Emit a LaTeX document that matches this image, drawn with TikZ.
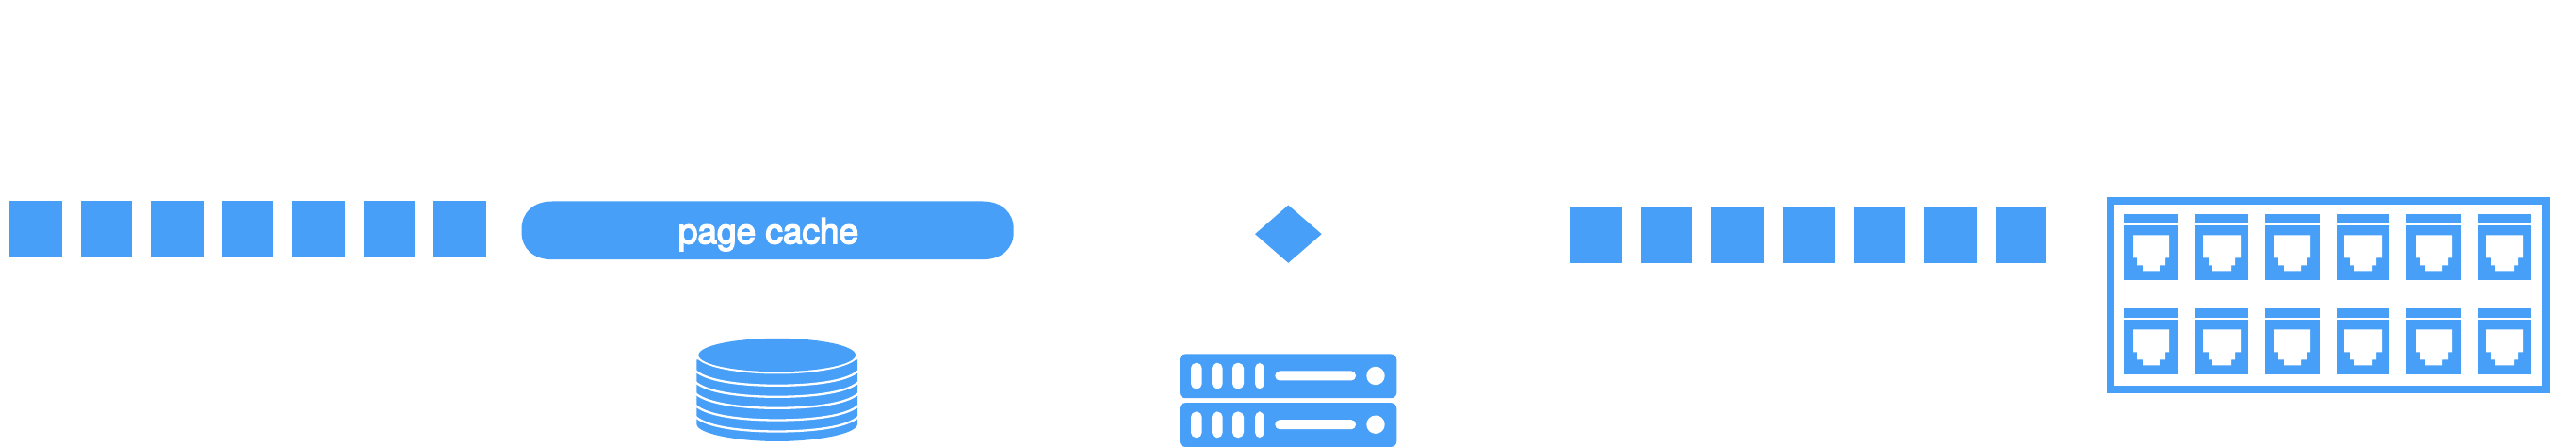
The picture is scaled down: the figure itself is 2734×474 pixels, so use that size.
\documentclass[tikz,border=0pt]{standalone}
\usepackage{fontspec}
\setmainfont{TeX Gyre Heros}
\newfontfamily\pcfont[FakeBold=4]{TeX Gyre Heros}
\definecolor{bl}{RGB}{71,159,248}
\newcommand{\portA}[2]{%
  \fill[bl] (#1,#2) rectangle ++(58,10);
  \fill[bl] (#1,#2+12) rectangle ++(58,58);
  \fill[white] (#1+10,#2+22) -- ++(38,0) -- ++(0,24) -- ++(-4,0) -- ++(0,8) -- ++(-6,0) -- ++(0,6) -- ++(-18,0) -- ++(0,-6) -- ++(-6,0) -- ++(0,-8) -- ++(-4,0) -- cycle;}
\newcommand{\portB}[2]{%
  \fill[bl] (#1,#2) rectangle ++(56,10);
  \fill[bl] (#1,#2+12) rectangle ++(56,58);
  \fill[white] (#1+8,#2+22) -- ++(40,0) -- ++(0,24) -- ++(-6,0) -- ++(0,8) -- ++(-4,0) -- ++(0,6) -- ++(-20,0) -- ++(0,-6) -- ++(-4,0) -- ++(0,-8) -- ++(-6,0) -- cycle;}
\newcommand{\serverrow}[1]{%
  \fill[bl,rounded corners=3pt] (1252,#1) rectangle ++(230.3,46.7);
  \foreach \a/\b in {1264/1275.7,1286/1297.7,1308/1320,1332/1341.7}
    \fill[white,rounded corners=2.8pt] (\a,#1+9.3) rectangle (\b,#1+37);
  \fill[white,rounded corners=2.4pt] (1353.3,#1+18) rectangle (1439,#1+28);
  \fill[white] (1460,#1+23) circle (4.85pt);}
\begin{document}
\begin{tikzpicture}[x=0.5pt,y=-0.5pt,
  blockbox/.style={fill=bl,draw=none}]
\useasboundingbox (0,0) rectangle (2734,474);
\begin{scope}[yshift=-0.75pt]
% left squares
\foreach \a/\b in {10/66,86/140,160/216,236/290,310/366,386/440,460/516}
  \fill[blockbox] (\a,212) rectangle (\b,271.7);
% page cache
\fill[blockbox] (553.6,241) .. controls (553.6,224) and (566,212) .. (586,212) -- (1043,212)
  .. controls (1063,212) and (1075.7,224) .. (1075.7,241) -- (1075.7,245)
  .. controls (1075.7,262) and (1063,273.7) .. (1043,273.7) -- (586,273.7)
  .. controls (566,273.7) and (553.6,262) .. (553.6,245) -- cycle;
\node[text=white,inner sep=0pt,anchor=base,font=\pcfont\fontsize{18.5pt}{20pt}\selectfont] (pc) at (815.5,256.7) {page cache};
% disks
\fill[blockbox] (739.3,380) -- (739.3,448) .. controls (739.3,459) and (785,466.5) .. (824.7,466.5) .. controls (865,466.5) and (910,459) .. (910,448) -- (910,380) -- cycle;
\fill[white] (824.7,375) ellipse (43pt and 10pt);
\fill[blockbox] (824.7,375) ellipse (41.65pt and 8.85pt);
\foreach \y in {407.3,419.3,431.3,444,456}
  \draw[white,line width=1.15pt] (735,\y-19) .. controls (745,\y-4) and (790,\y) .. (824.7,\y) .. controls (860,\y) and (905,\y-4) .. (914,\y-19);
% diamond
\fill[blockbox] (1367.3,216) -- (1402.7,246.7) -- (1367.3,277.3) -- (1332,246.7) -- cycle;
% server
\serverrow{374}
\serverrow{425.7}
% right squares
\foreach \a/\b in {1666/1722,1742/1796,1816/1872,1892/1948,1968/2022,2042/2098,2118/2172}
  \fill[blockbox] (\a,218) rectangle (\b,277.7);
% switch
\draw[bl,line width=4pt] (2240,212) rectangle (2702,412);
\foreach \r in {226,326}{
  \portA{2254}{\r}\portB{2330}{\r}\portA{2404}{\r}\portB{2480}{\r}\portA{2554}{\r}\portB{2630}{\r}
}
\end{scope}
\end{tikzpicture}
\end{document}
